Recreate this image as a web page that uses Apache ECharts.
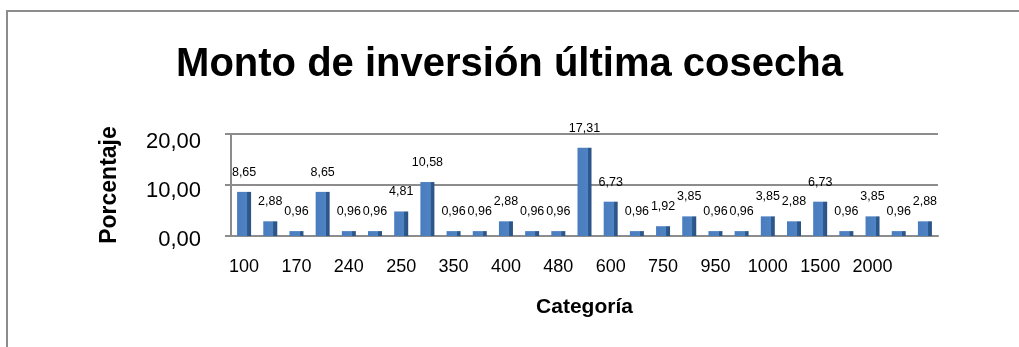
<!DOCTYPE html>
<html>
<head>
<meta charset="utf-8">
<script src="https://cdn.jsdelivr.net/npm/echarts@6/dist/echarts.min.js"></script>
<style>
  html, body { margin: 0; padding: 0; background: #fff; }
  #chart { width: 1019px; height: 347px; }
</style>
</head>
<body>
<div id="chart"></div>
<script>
// tick labels shown on the category axis (every other category is labelled)
const shownLabels = ['100', '170', '240', '250', '350', '400', '480', '600', '750', '950', '1000', '1500', '2000'];
const percentages = [8.65, 2.88, 0.96, 8.65, 0.96, 0.96, 4.81, 10.58, 0.96, 0.96, 2.88, 0.96, 0.96,
  17.31, 6.73, 0.96, 1.92, 3.85, 0.96, 0.96, 3.85, 2.88, 6.73, 0.96, 3.85, 0.96, 2.88];
const yTicks = [0, 10, 20];

const categories = percentages.map((v, i) => (i % 2 === 0 ? (shownLabels[i / 2] || '') : ''));

const chart = echarts.init(document.getElementById('chart'));

const barColor = new echarts.graphic.LinearGradient(0, 0, 1, 0, [
  { offset: 0, color: '#4a7dbf' },
  { offset: 0.72, color: '#4f82c2' },
  { offset: 0.73, color: '#2f5b8f' },
  { offset: 1, color: '#2a5285' }
]);

const option = {
  animation: false,
  title: {
    text: 'Monto de inversión última cosecha',
    left: 'center',
    top: 40,
    textStyle: {
      fontFamily: 'Liberation Sans',
      fontSize: 40,
      fontWeight: 'bold',
      color: '#000'
    }
  },
  graphic: [
    {
      type: 'rect',
      shape: { x: 7, y: 11, width: 1030, height: 360 },
      style: { fill: 'none', stroke: '#8c8c8c', lineWidth: 2 }
    }
  ],
  grid: {
    left: 231,
    top: 134,
    width: 707,
    height: 102
  },
  xAxis: {
    type: 'category',
    data: categories,
    name: 'Categoría',
    nameLocation: 'middle',
    nameGap: 61,
    nameTextStyle: {
      fontFamily: 'Liberation Sans',
      fontSize: 21,
      fontWeight: 'bold',
      color: '#000'
    },
    axisLine: { lineStyle: { color: '#8c8c8c', width: 2 } },
    axisTick: { show: false },
    axisLabel: {
      interval: 0,
      margin: 22,
      fontFamily: 'Liberation Sans',
      fontSize: 18,
      color: '#000'
    }
  },
  yAxis: {
    type: 'value',
    min: 0,
    max: yTicks[yTicks.length - 1],
    interval: yTicks[1] - yTicks[0],
    name: 'Porcentaje',
    nameLocation: 'middle',
    nameGap: 110,
    nameTextStyle: {
      fontFamily: 'Liberation Sans',
      fontSize: 23,
      fontWeight: 'bold',
      color: '#000'
    },
    axisLine: { show: true, lineStyle: { color: '#8c8c8c', width: 2 } },
    axisTick: { show: true, length: 6, lineStyle: { color: '#8c8c8c', width: 2 } },
    splitLine: { lineStyle: { color: '#8c8c8c', width: 2 } },
    axisLabel: {
      margin: 30,
      fontFamily: 'Liberation Sans',
      fontSize: 22,
      color: '#000',
      formatter: v => '{v' + v + '|' + v.toFixed(2).replace('.', ',') + '}',
      rich: {
        v0: { fontFamily: 'Liberation Sans', fontSize: 22, color: '#000', padding: [8, 0, 0, 0] },
        v10: { fontFamily: 'Liberation Sans', fontSize: 22, color: '#000', padding: [12, 0, 0, 0] },
        v20: { fontFamily: 'Liberation Sans', fontSize: 22, color: '#000', padding: [16, 0, 0, 0] }
      }
    }
  },
  series: [
    {
      type: 'bar',
      data: percentages,
      barWidth: 14,
      itemStyle: { color: barColor },
      label: {
        show: true,
        position: 'top',
        distance: 13,
        fontFamily: 'Liberation Sans',
        fontSize: 12.5,
        color: '#000',
        formatter: p => p.value.toFixed(2).replace('.', ',')
      }
    }
  ]
};

chart.setOption(option);
</script>
</body>
</html>
